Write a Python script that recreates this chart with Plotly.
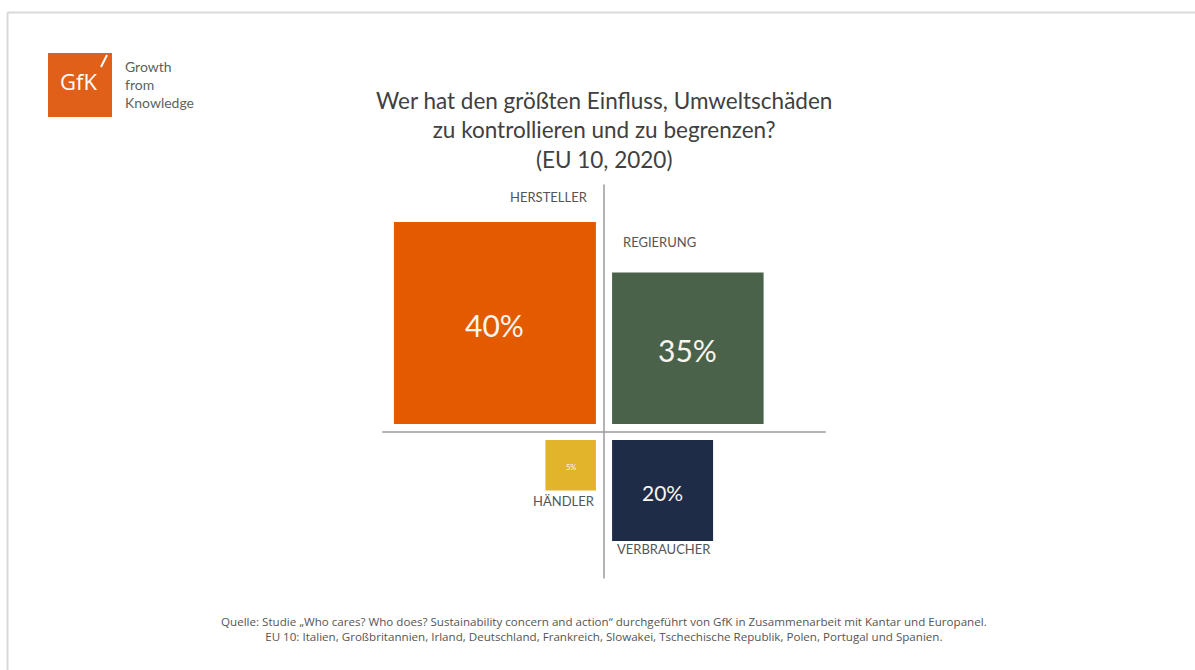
import plotly.graph_objects as go

# ---- data ----
categories = ["HERSTELLER", "REGIERUNG", "HÄNDLER", "VERBRAUCHER"]
values = [40, 35, 5, 20]
quad_x = [-1, 1, -1, 1]   # quadrant (left/right)
quad_y = [1, 1, -1, -1]   # quadrant (top/bottom)
title_lines = ["Wer hat den größten Einfluss, Umweltschäden",
               "zu kontrollieren und zu begrenzen?",
               "(EU 10, 2020)"]
source_lines = [
    "Quelle: Studie „Who cares? Who does? Sustainability concern and action“ durchgeführt von GfK in Zusammenarbeit mit Kantar und Europanel.",
    "EU 10: Italien, Großbritannien, Irland, Deutschland, Frankreich, Slowakei, Tschechische Republik, Polen, Portugal und Spanien.",
]

# ---- styles ----
colors = ["#E35A00", "#4A624A", "#E2B42C", "#1F2C48"]
pct_sizes = [30, 30, 7.5, 21]
label_dx = [-0.12, 0.18, 0.02, 0.05]    # label offsets from the axis gap
label_dy = [0.49, 0.61, 0.0, 0.04]      # label offsets from the square edge
W, H = 1195, 670
UNIT = 50.5          # pixels per axis unit
OX, OY = 604, 432    # pixel position of origin
GAP = 0.16
FONT = "Lato, 'Open Sans', sans-serif"

# square side by rank of value
order = sorted(values)
sides = [order.index(v) + 1 for v in values]

fig = go.Figure()
shapes = []
annotations = []

for i, (cat, v, qx, qy, s, c, fs) in enumerate(zip(categories, values, quad_x, quad_y, sides, colors, pct_sizes)):
    x0 = qx * GAP
    x1 = qx * (GAP + s)
    y0 = qy * GAP
    y1 = qy * (GAP + s)
    shapes.append(dict(type="rect", xref="x", yref="y", x0=min(x0, x1), x1=max(x0, x1),
                       y0=min(y0, y1), y1=max(y0, y1), fillcolor=c, line=dict(width=0), layer="below"))
    annotations.append(dict(x=(x0 + x1) / 2, y=(y0 + y1) / 2, xref="x", yref="y",
                            text=f"{v}%", showarrow=False, xanchor="center", yanchor="middle",
                            yshift=-2,
                            font=dict(family=FONT, size=fs, color="#f8f5ee")))
    # category label
    ly = y1 + label_dy[i]
    yanchor = "middle" if qy > 0 else "top"
    lx = qx * GAP + label_dx[i]
    xanchor = "right" if qx < 0 else "left"
    annotations.append(dict(x=lx, y=ly, xref="x", yref="y", text=cat, showarrow=False,
                            xanchor=xanchor, yanchor=yanchor,
                            font=dict(family=FONT, size=13, color="#555555")))

# quadrant axes lines
shapes.append(dict(type="line", xref="x", yref="y", x0=0, x1=0, y0=4.9, y1=-2.9,
                   line=dict(color="#9a9a9a", width=1.5)))
shapes.append(dict(type="line", xref="x", yref="y", x0=-4.39, x1=4.39, y0=0, y1=0,
                   line=dict(color="#9a9a9a", width=1.5)))

# border
shapes.append(dict(type="line", xref="paper", yref="paper", x0=7.5 / W, x1=1, y0=1 - 12.5 / H, y1=1 - 12.5 / H,
                   line=dict(color="#d9d9d9", width=2)))
shapes.append(dict(type="line", xref="paper", yref="paper", x0=7.5 / W, x1=7.5 / W, y0=0, y1=1 - 12.5 / H,
                   line=dict(color="#d9d9d9", width=2)))

# GfK logo
shapes.append(dict(type="rect", xref="paper", yref="paper", x0=48 / W, x1=112 / W,
                   y0=1 - 117 / H, y1=1 - 53 / H, fillcolor="#E0601A", line=dict(width=0)))
shapes.append(dict(type="line", xref="paper", yref="paper", x0=101 / W, x1=107 / W,
                   y0=1 - 67 / H, y1=1 - 55 / H, line=dict(color="white", width=2)))
annotations.append(dict(x=78 / W, y=1 - 81 / H, xref="paper", yref="paper", text="GfK",
                        showarrow=False, xanchor="center", yanchor="middle",
                        font=dict(family="'Liberation Sans Narrow', 'Open Sans', sans-serif",
                                  size=22, color="white")))
annotations.append(dict(x=123 / W, y=1 - 84.5 / H, xref="paper", yref="paper",
                        text="Growth<br>from<br>Knowledge", showarrow=False, align="left",
                        xanchor="left", yanchor="middle",
                        font=dict(family=FONT, size=14, color="#5f5f5f")))

# title
annotations.append(dict(x=OX / W, y=1 - 130 / H, xref="paper", yref="paper",
                        text="<br>".join(title_lines), showarrow=False, align="center",
                        xanchor="center", yanchor="middle",
                        font=dict(family=FONT, size=22.5, color="#404040")))

# source
annotations.append(dict(x=OX / W, y=1 - 628.5 / H, xref="paper", yref="paper",
                        text="<br>".join(source_lines), showarrow=False, align="center",
                        xanchor="center", yanchor="middle",
                        font=dict(family="'Open Sans', sans-serif", size=11.6, color="#555555")))

fig.update_layout(
    width=W, height=H,
    margin=dict(l=0, r=0, t=0, b=0),
    paper_bgcolor="white", plot_bgcolor="white",
    xaxis=dict(range=[-OX / UNIT, (W - OX) / UNIT], visible=False, fixedrange=True),
    yaxis=dict(range=[-(H - OY) / UNIT, OY / UNIT], visible=False, fixedrange=True),
    shapes=shapes, annotations=annotations, showlegend=False,
)

fig.write_html("out.html")
